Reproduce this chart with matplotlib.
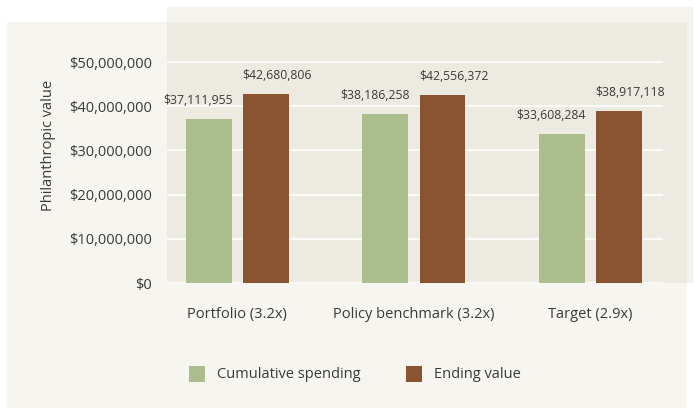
import matplotlib
matplotlib.use("Agg")
import matplotlib.pyplot as plt
from matplotlib.patches import Rectangle
import numpy as np

categories = ["Portfolio (3.2x)", "Policy benchmark (3.2x)", "Target (2.9x)"]
cumulative_spending = [37111955, 38186258, 33608284]
ending_value = [42680806, 42556372, 38917118]
series_names = ["Cumulative spending", "Ending value"]
yticks = [0, 10000000, 20000000, 30000000, 40000000, 50000000]

GREEN = "#abbc8d"
BROWN = "#8a5430"
TXT = "#3a3a3a"
FONT = "Open Sans"

W, H = 694, 408
fig = plt.figure(figsize=(W / 100, H / 100), dpi=100)
fig.patch.set_facecolor("white")

def fx(px):
    return px / W

def fy(py):
    return 1 - py / H

def rect(x0, y0, x1, y1, color):
    fig.patches.append(Rectangle((fx(x0), fy(y1)), fx(x1) - fx(x0), fy(y0) - fy(y1),
                                 transform=fig.transFigure, facecolor=color,
                                 edgecolor="none", zorder=-10))

# backgrounds
rect(7, 22, 687, 408, "#f6f5f0")
rect(167, 7, 693, 283, "#f4f3ed")
rect(167, 22, 687, 283, "#edebe1")

ax_l, ax_r, ax_t, ax_b = 167, 663, 7, 283
ax = fig.add_axes([fx(ax_l), fy(ax_b), fx(ax_r) - fx(ax_l), fy(ax_t) - fy(ax_b)])
ax.set_facecolor("none")
for s in ax.spines.values():
    s.set_visible(False)

ymax = 50000000 * (ax_b - ax_t) / (283 - 62)
ax.set_ylim(0, ymax)
ax.set_xlim(-0.399, 2.411)

x = np.arange(len(categories))
bw = 0.26
off = 0.1615
ax.bar(x - off, cumulative_spending, bw, color=GREEN, zorder=3)
ax.bar(x + off, ending_value, bw, color=BROWN, zorder=3)

ax.set_yticks(yticks)
ax.set_yticklabels(["${:,.0f}".format(v) for v in yticks], fontsize=10.5,
                   color=TXT, family=FONT)
ax.grid(axis="y", color="white", linewidth=1.2, zorder=0)
ax.tick_params(axis="y", length=0, pad=11)
ax.set_xticks(x)
ax.set_xticklabels(categories, fontsize=10.5, color=TXT, family=FONT)
ax.tick_params(axis="x", length=0, pad=17)

pad_px = 18.5 * ymax / (ax_b - ax_t)
for i in range(len(categories)):
    ax.text(x[i] - off + bw / 2 + 0.005, cumulative_spending[i] + pad_px,
            "${:,.0f}".format(cumulative_spending[i]), ha="right", va="center",
            fontsize=8.8, color=TXT, family=FONT)
    ax.text(x[i] + off - bw / 2 - 0.003, ending_value[i] + pad_px,
            "${:,.0f}".format(ending_value[i]), ha="left", va="center",
            fontsize=8.8, color=TXT, family=FONT)

fig.text(fx(48), fy(145), "Philanthropic value", rotation=90, ha="center",
         va="center", fontsize=10.5, color=TXT, family=FONT)

# legend
for px0, col, name in [(189, GREEN, series_names[0]), (406, BROWN, series_names[1])]:
    fig.patches.append(Rectangle((fx(px0), fy(382)), fx(16), 16 / H,
                                 transform=fig.transFigure, facecolor=col,
                                 edgecolor="none"))
    fig.text(fx(px0 + 28), fy(375), name, ha="left", va="center",
             fontsize=10.5, color=TXT, family=FONT)

fig.savefig("out.png", dpi=100)
